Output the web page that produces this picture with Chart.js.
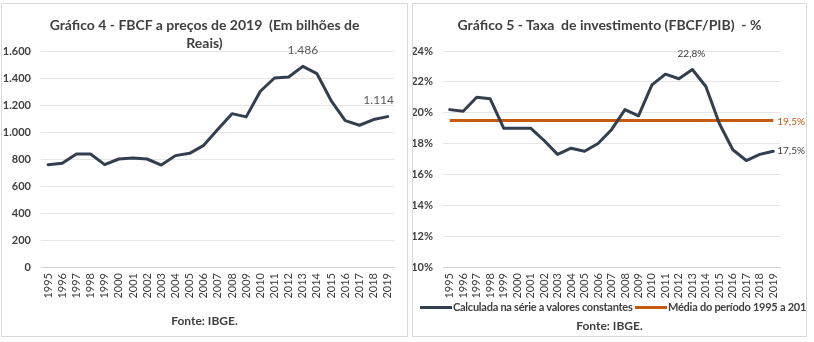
<!DOCTYPE html>
<html>
<head>
<meta charset="utf-8">
<script src="https://cdn.jsdelivr.net/npm/chart.js@4.4.1/dist/chart.umd.min.js"></script>
<style>
body { margin:0; background:#fff; width:814px; height:342px; overflow:hidden; font-family:Lato, "Open Sans", sans-serif; color:#404040; }
.panel { position:absolute; top:3px; height:334px; border:1px solid #d9d9d9; box-sizing:border-box; overflow:hidden; background:#fff; }
#p1 { left:1px; width:407px; }
#p2 { left:412px; width:395px; }
.box { position:absolute; left:0; top:0; }
.title { position:absolute; left:0; right:0; top:12px; text-align:center; font-weight:bold; font-size:14px; line-height:18px; color:#404040; }
.fonte { position:absolute; left:0; right:0; text-align:center; font-weight:bold; font-size:12px; line-height:14px; color:#404040; }
.leg { position:absolute; top:296px; height:14px; font-size:11px; font-weight:bold; line-height:14px; white-space:nowrap; color:#404040; letter-spacing:-0.25px; }
.leg i { position:absolute; top:6px; height:3px; width:32px; }
.leg span { position:absolute; top:0; }
</style>
</head>
<body>
<div class="panel" id="p1">
  <div class="box" style="width:405px;height:332px"><canvas id="g4" width="405" height="332"></canvas></div>
  <div class="title">Gráfico 4 - FBCF a preços de 2019&nbsp; (Em bilhões de<br>Reais)</div>
  <div class="fonte" style="top:310px">Fonte: IBGE.</div>
</div>
<div class="panel" id="p2">
  <div class="box" style="width:393px;height:332px"><canvas id="g5" width="393" height="332"></canvas></div>
  <div class="title">Gráfico 5 - Taxa&nbsp; de investimento (FBCF/PIB)&nbsp; - %</div>
  <div id="legenda"></div>
  <div class="fonte" style="top:315px">Fonte: IBGE.</div>
</div>
<script>
// dados
const anos = ['1995','1996','1997','1998','1999','2000','2001','2002','2003','2004','2005','2006','2007',
              '2008','2009','2010','2011','2012','2013','2014','2015','2016','2017','2018','2019'];
// FBCF a preços de 2019, R$ bilhões
const fbcf = [758, 768, 837, 837, 758, 800, 807, 800, 755, 825, 842, 901, 1020,
              1136, 1112, 1302, 1400, 1407, 1486, 1432, 1233, 1084, 1050, 1092, 1114];
// taxa de investimento, % do PIB
const taxa = [20.2, 20.1, 21.0, 20.9, 19.0, 19.0, 19.0, 18.2, 17.3, 17.7, 17.5, 18.0, 18.9,
              20.2, 19.8, 21.8, 22.5, 22.2, 22.8, 21.7, 19.3, 17.6, 16.9, 17.3, 17.5];
const media = [19.5, 19.5, 19.5, 19.5, 19.5, 19.5, 19.5, 19.5, 19.5, 19.5, 19.5, 19.5, 19.5,
               19.5, 19.5, 19.5, 19.5, 19.5, 19.5, 19.5, 19.5, 19.5, 19.5, 19.5, 19.5];
const ticksG4 = [0, 200, 400, 600, 800, 1000, 1200, 1400, 1600];
const ticksG5 = [10, 12, 14, 16, 18, 20, 22, 24];

const corLinha = '#333f4f';
const corMedia = '#c55a11';

function fmtMil(v) {
  var s = String(Math.round(v));
  return s.length > 3 ? s.slice(0, -3) + '.' + s.slice(-3) : s;
}
function fmtPct(v) {
  return v.toFixed(1).replace('.', ',') + '%';
}

// rótulos de dados
const rotulos = {
  id: 'rotulos',
  afterDatasetsDraw: function(chart, args, opts) {
    var ctx = chart.ctx;
    (opts.itens || []).forEach(function(it) {
      var pt = chart.getDatasetMeta(it.ds).data[it.i];
      var v = chart.data.datasets[it.ds].data[it.i];
      ctx.save();
      ctx.font = it.font;
      ctx.fillStyle = it.cor;
      ctx.textAlign = it.align;
      ctx.textBaseline = 'middle';
      ctx.fillText(it.fmt(v), pt.x + it.dx, pt.y + it.dy);
      ctx.restore();
    });
  }
};

function eixoX() {
  return {
    offset: true,
    grid: { display: false, drawTicks: false },
    border: { display: true, color: '#d0d0d0', width: 1 },
    ticks: { autoSkip: false, minRotation: 90, maxRotation: 90, padding: 6,
             color: '#404040', font: { family: 'Lato', size: 11 } },
    afterFit: function(s) { s.height = 40; }
  };
}

new Chart(document.getElementById('g4'), {
  type: 'line',
  data: {
    labels: anos,
    datasets: [{
      label: 'FBCF',
      data: fbcf,
      borderColor: corLinha,
      backgroundColor: corLinha,
      borderWidth: 3,
      pointRadius: 0,
      tension: 0,
      borderJoinStyle: 'round',
      borderCapStyle: 'round'
    }]
  },
  options: {
    responsive: false,
    animation: false,
    maintainAspectRatio: false,
    layout: { padding: { left: 0, right: 5, top: 47, bottom: 29 } },
    plugins: {
      legend: { display: false },
      tooltip: { enabled: false },
      rotulos: { itens: [
        { ds: 0, i: 18, dx: 0, dy: -16, align: 'center', font: '12px Lato', cor: '#595959', fmt: fmtMil },
        { ds: 0, i: 24, dx: -9, dy: -16, align: 'center', font: '12px Lato', cor: '#595959', fmt: fmtMil }
      ] }
    },
    scales: {
      x: eixoX(),
      y: {
        min: 0, max: 1600,
        afterBuildTicks: function(s) { s.ticks = ticksG4.map(function(v) { return { value: v }; }); },
        grid: { color: '#e6e6e6', drawTicks: false },
        border: { display: false },
        ticks: { padding: 10, color: '#404040', font: { family: 'Lato', size: 11, weight: 'bold' },
                 callback: function(v) { return fmtMil(v); } },
        afterFit: function(s) { s.width = 39; }
      }
    }
  },
  plugins: [rotulos]
});

var g5 = new Chart(document.getElementById('g5'), {
  type: 'line',
  data: {
    labels: anos,
    datasets: [{
      label: 'Calculada na série a valores constantes',
      data: taxa,
      borderColor: corLinha,
      backgroundColor: corLinha,
      borderWidth: 3,
      pointRadius: 0,
      tension: 0,
      borderJoinStyle: 'round',
      borderCapStyle: 'round'
    }, {
      label: 'Média do período 1995 a 2019',
      data: media,
      borderColor: corMedia,
      backgroundColor: corMedia,
      borderWidth: 3,
      pointRadius: 0,
      tension: 0
    }]
  },
  options: {
    responsive: false,
    animation: false,
    maintainAspectRatio: false,
    layout: { padding: { left: 0, right: 26, top: 47, bottom: 29 } },
    plugins: {
      legend: { display: false },
      tooltip: { enabled: false },
      rotulos: { itens: [
        { ds: 0, i: 18, dx: -1, dy: -16, align: 'center', font: '10px Lato', cor: '#404040', fmt: fmtPct },
        { ds: 0, i: 24, dx: 4, dy: -1, align: 'left', font: '10px Lato', cor: '#404040', fmt: fmtPct },
        { ds: 1, i: 24, dx: 4, dy: 1, align: 'left', font: '10px Lato', cor: corMedia, fmt: fmtPct }
      ] }
    },
    scales: {
      x: eixoX(),
      y: {
        min: 10, max: 24,
        afterBuildTicks: function(s) { s.ticks = ticksG5.map(function(v) { return { value: v }; }); },
        grid: { color: '#e6e6e6', drawTicks: false },
        border: { display: false },
        ticks: { padding: 10, color: '#404040', font: { family: 'Lato', size: 11, weight: 'bold' },
                 callback: function(v) { return v + '%'; } },
        afterFit: function(s) { s.width = 30; }
      }
    }
  },
  plugins: [rotulos]
});

// legenda em HTML a partir dos datasets
var posLeg = [7, 222];
var leg = document.getElementById('legenda');
g5.data.datasets.forEach(function(ds, k) {
  var d = document.createElement('div');
  d.className = 'leg';
  d.style.left = posLeg[k] + 'px';
  d.innerHTML = '<i style="left:0;background:' + ds.borderColor + '"></i><span style="left:33px">' + ds.label + '</span>';
  leg.appendChild(d);
});
</script>
</body>
</html>
